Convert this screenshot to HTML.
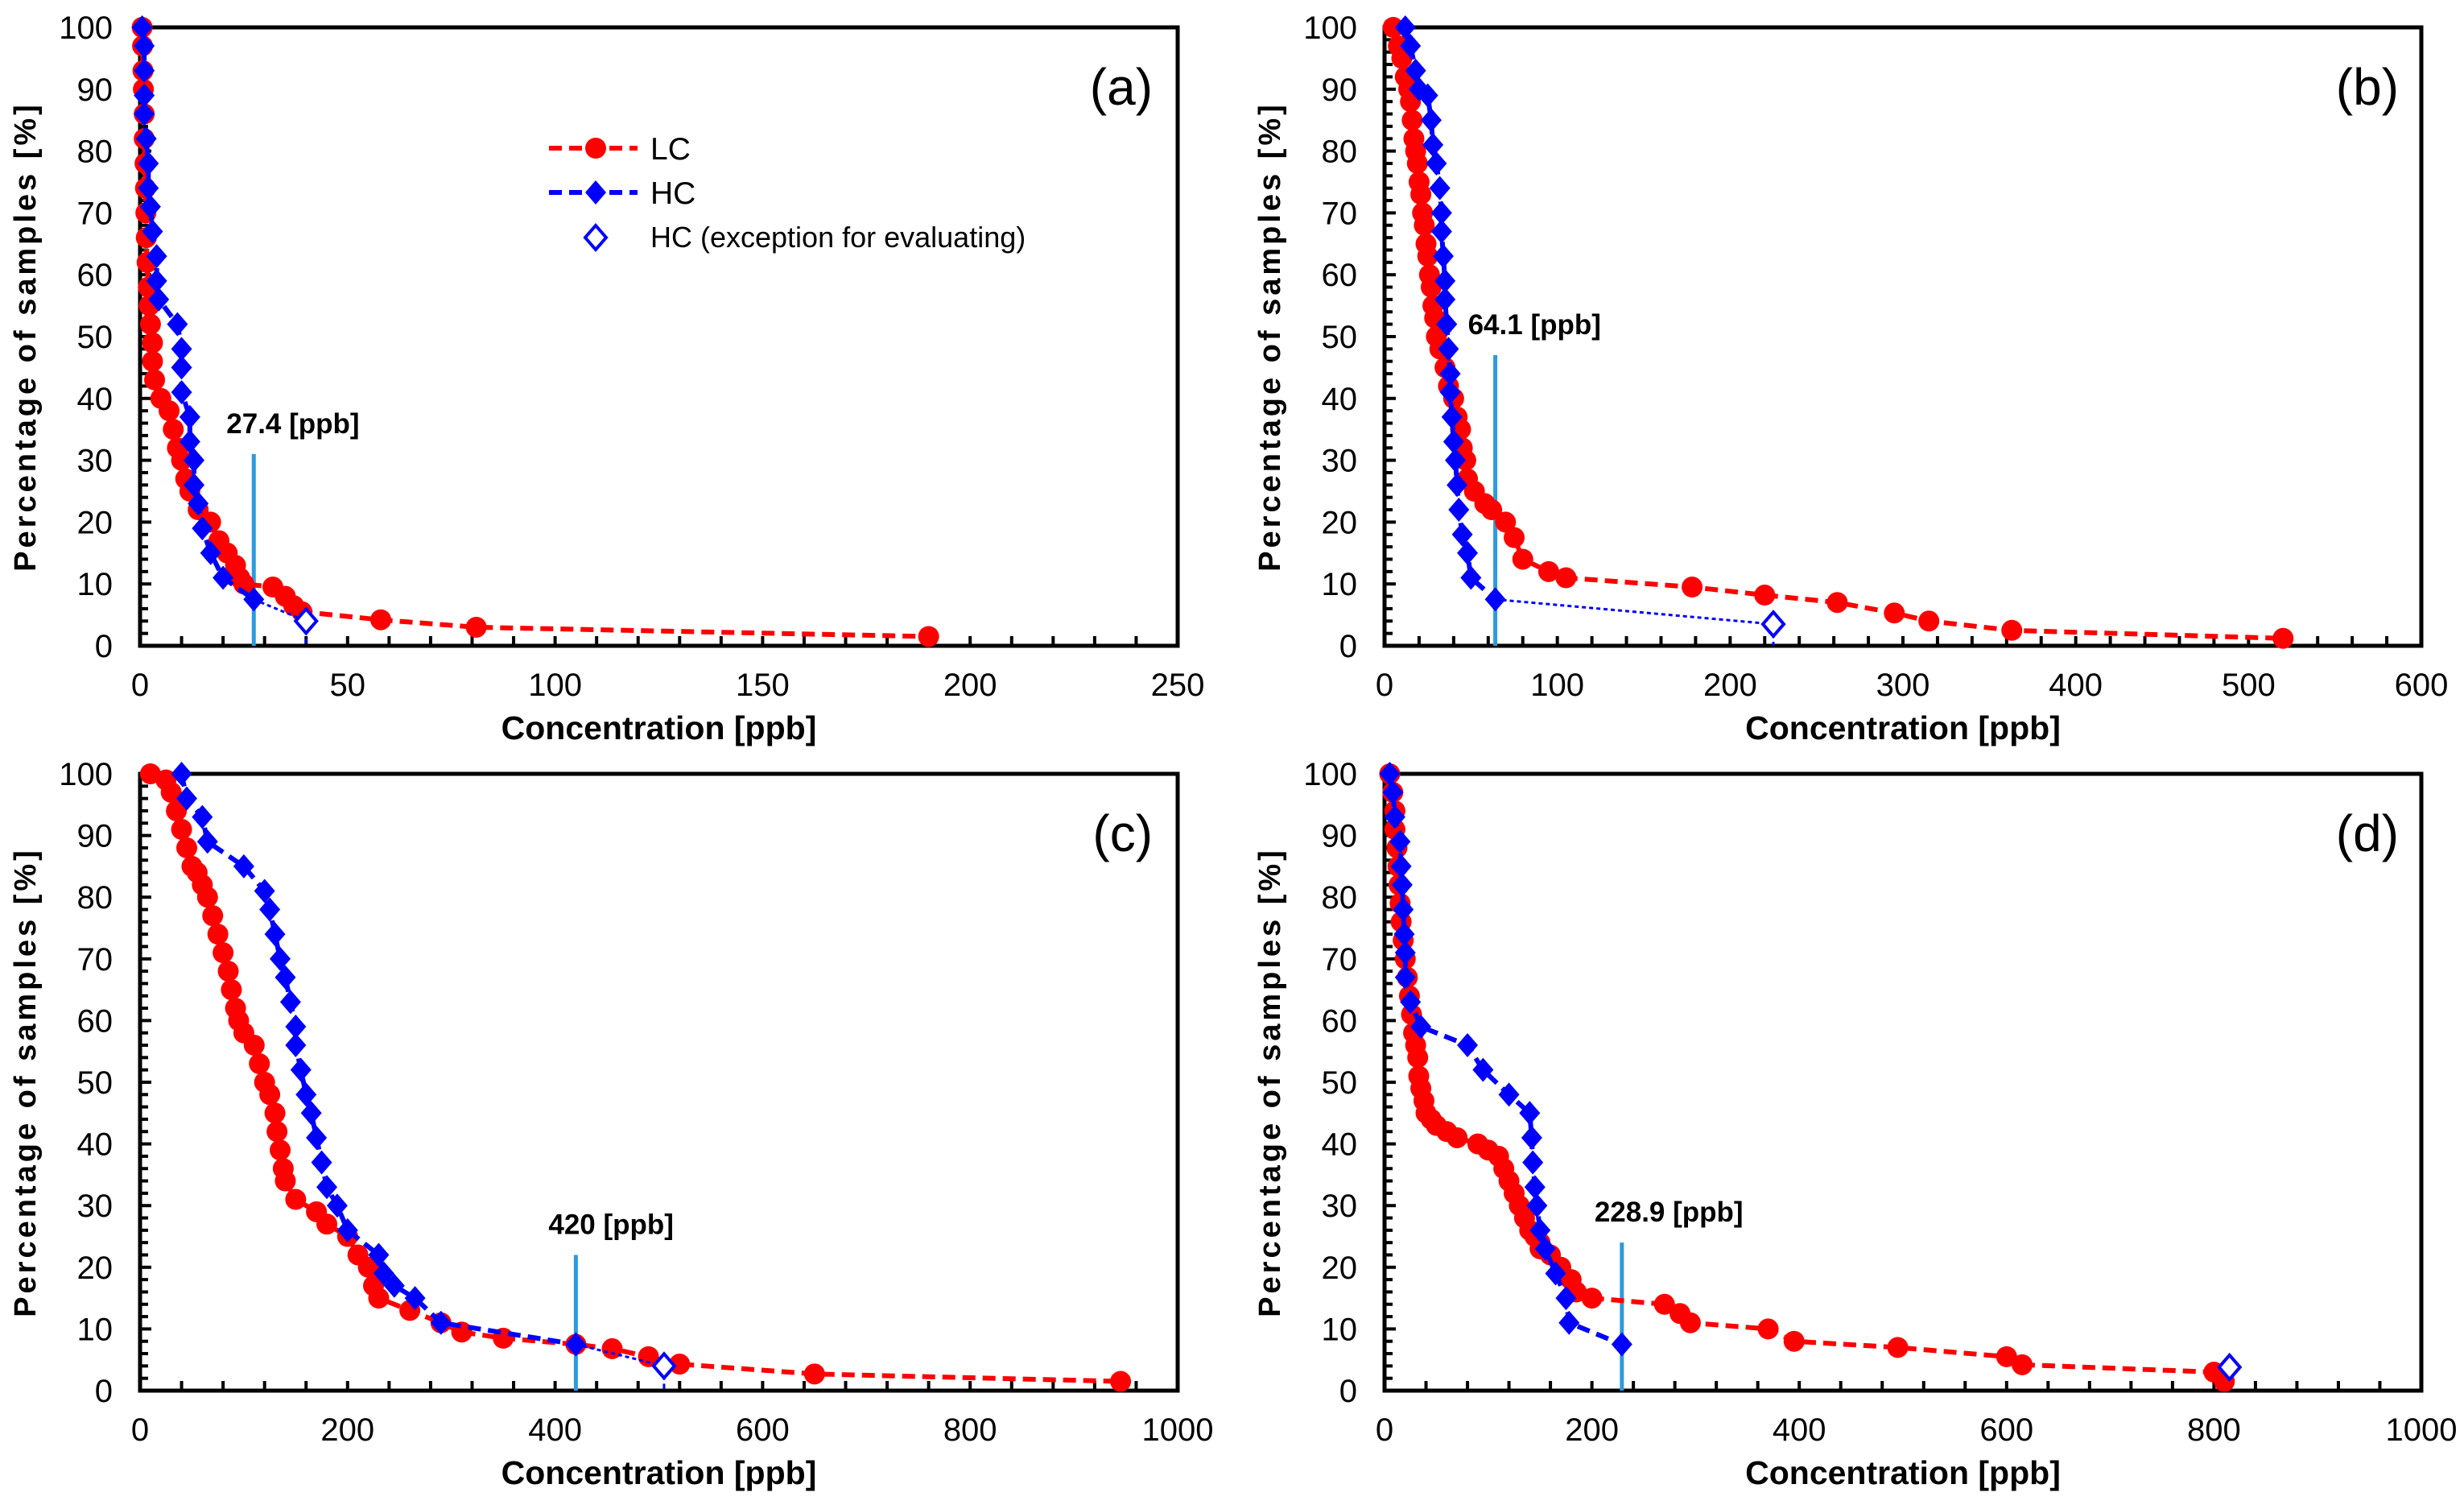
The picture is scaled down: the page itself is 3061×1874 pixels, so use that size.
<!DOCTYPE html>
<html><head><meta charset="utf-8">
<style>
html,body{margin:0;padding:0;background:#fff;}
svg{display:block;}
text{font-family:"Liberation Sans",sans-serif;}
</style></head>
<body>
<svg id="fig" width="3061" height="1874" viewBox="0 0 3061 1874" xmlns="http://www.w3.org/2000/svg"></svg>
<script>
// ---- Panel (a) data ----
const lcXa=[0.5,0.6,0.7,0.8,1,1,1.2,1.3,1.4,1.5,1.7,2,2.2,2.5,3,3,3.5,5,7,8,9,10,11,12,14,17,19,21,23,24,25,32,35,37,39,58,81,190];
const lcYa=[100,97,93,90,86,82,78,74,70,66,62,58,55,52,49,46,43,40,38,35,32,30,27,25,22,20,17,15,13,11,10,9.5,8,6.5,5.5,4.2,3,1.5];
const hcXa=[0.5,1,1,1,1,1.5,2,2,2.5,3,4,4,4.5,9,10,10,10,12,12,13,13,14,15,17,20,27.4];
const hcYa=[100,97,93,89,86,82,78,74,71,67,63,59,56,52,48,45,41,37,33,30,26,23,19,15,11,7.5];
const exXa=[40], exYa=[4];
const thrA=[27.4], thrTopA=[31], xTicksA=[0,50,100,150,200,250];
// ---- Panel (b) data ----
const lcXb=[5,8,10,12,14,15,16,17,18,19,20,21,22,23,24,25,26,27,28,29,30,32,35,37,40,42,44,45,47,48,52,58,62,70,75,80,95,105,178,220,262,295,315,363,520];
const lcYb=[100,97,95,92,90,88,85,82,80,78,75,73,70,68,65,63,60,58,55,53,50,48,45,42,40,37,35,32,30,27,25,23,22,20,17.5,14,12,11,9.5,8.2,7,5.3,4,2.5,1.2];
const hcXb=[12,15,18,20,25,27,28,30,32,33,33,34,35,35,36,37,38,38,39,40,41,42,43,45,48,50,64.1];
const hcYb=[100,97,93,90,89,85,81,78,74,70,67,63,59,56,52,48,44,41,37,33,30,26,22,18,15,11,7.5];
const exXb=[225], exYb=[3.5];
const thrB=[64.1], thrTopB=[47], xTicksB=[0,100,200,300,400,500,600];
// ---- Panel (c) data ----
const lcXc=[10,25,30,35,40,45,50,55,60,65,70,75,80,85,88,92,95,100,110,115,120,125,130,132,135,138,140,150,170,180,200,210,220,225,230,260,290,310,350,420,455,490,520,650,945];
const lcYc=[100,99,97,94,91,88,85,84,82,80,77,74,71,68,65,62,60,58,56,53,50,48,45,42,39,36,34,31,29,27,25,22,20,17,15,13,11,9.5,8.5,7.5,6.8,5.5,4.3,2.7,1.5];
const hcXc=[40,45,60,65,100,120,125,130,135,140,145,150,150,155,160,165,170,175,180,190,200,230,235,245,265,290,420];
const hcYc=[100,96,93,89,85,81,78,74,70,67,63,59,56,52,48,45,41,37,33,30,26,22,19,17,15,11,7.5];
const exXc=[505], exYc=[4];
const thrC=[420], thrTopC=[22], xTicksC=[0,200,400,600,800,1000];
// ---- Panel (d) data ----
const lcXd=[5,8,10,10,12,13,14,15,16,18,20,22,24,26,28,30,32,33,35,38,40,45,50,60,70,90,100,110,115,120,125,130,135,140,145,150,150,160,170,180,185,200,270,285,295,370,395,495,600,615,800,810];
const lcYd=[100,97,94,91,88,85,82,79,76,73,70,67,64,61,58,56,54,51,49,47,45,44,43,42,41,40,39,38,36,34,32,30,28,26,25,24,23,22,20,18,16,15,14,12.5,11,10,8,7,5.5,4.2,3,1.5];
const hcXd=[5,8,10,15,16,17,18,19,20,20,25,35,80,95,120,140,142,143,145,147,150,155,165,175,178,228.9];
const hcYd=[100,97,93,89,85,82,78,74,71,67,63,59,56,52,48,45,41,37,33,30,26,23,19,15,11,7.5];
const exXd=[815], exYd=[3.8];
const thrD=[228.9], thrTopD=[24], xTicksD=[0,200,400,600,800,1000];
const yTicks=[0,10,20,30,40,50,60,70,80,90,100];

const NS="http://www.w3.org/2000/svg";
const svg=document.getElementById('fig');
function mk(tag,attrs,parent){const e=document.createElementNS(NS,tag);for(const k in attrs)e.setAttribute(k,attrs[k]);(parent||svg).appendChild(e);return e;}

function panel(id,L,R,T,B,xmax,lcX,lcY,hcX,hcY,exX,exY,thr,thrTop,xTicks,label,labelPos,legend,link){
  const g=mk('g',{});
  
  
  const sx=v=>L+(v/xmax)*(R-L);
  const sy=v=>B-(v/100)*(B-T);
  for(let v=0;v<=100;v+=2){const y=sy(v);const t=mk('line',{x1:L,x2:L+(v%10==0?14:10),y1:y,y2:y,stroke:'#000','stroke-width':4},g);
    }
  const step=xTicks[1]-xTicks[0], minor=step/5;
  for(let v=0;v<=xmax+1e-9;v+=minor){const x=sx(v);const t=mk('line',{x1:x,x2:x,y1:B,y2:B-12,stroke:'#000','stroke-width':4},g);
    }
  const frame=mk('rect',{x:L,y:T,width:R-L,height:B-T,fill:'none',stroke:'#000','stroke-width':5},g);
  
  yTicks.forEach(v=>{const t=mk('text',{x:L-34,y:sy(v)+14,'text-anchor':'end','font-size':40},g);t.textContent=v;
    });
  xTicks.forEach(v=>{const t=mk('text',{x:sx(v),y:B+62,'text-anchor':'middle','font-size':40},g);t.textContent=v;
    });
  const xt=mk('text',{x:(L+R)/2,y:B+116,'text-anchor':'middle','font-size':41,'font-weight':'bold'},g);
  xt.textContent='Concentration [ppb]';
  const yc=(T+B)/2;
  const yt=mk('text',{x:0,y:0,'text-anchor':'middle','font-size':38,'font-weight':'bold','letter-spacing':4,transform:`translate(${L-130},${yc}) rotate(-90)`},g);
  yt.textContent='Percentage of samples [%]';
  const tl=mk('line',{x1:sx(thr[0]),x2:sx(thr[0]),y1:sy(thrTop[0]),y2:B,stroke:'#2a9be0','stroke-width':5},g);
  
  const tt=mk('text',{x:sx(thr[0])-34,y:sy(thrTop[0])-26,'text-anchor':'start','font-size':35,'font-weight':'bold'},g);
  tt.textContent=thr[0]+' [ppb]';
  const lp=lcX.map((x,i)=>sx(x)+','+sy(lcY[i])).join(' ');
  const ll=mk('polyline',{points:lp,fill:'none',stroke:'#ff0000','stroke-width':6,'stroke-dasharray':'16 9'},g);
  
  lcX.forEach((x,i)=>{const c=mk('circle',{cx:sx(x),cy:sy(lcY[i]),r:13,fill:'#ff0000'},g);
    });
  const hp=hcX.map((x,i)=>sx(x)+','+sy(hcY[i])).join(' ');
  const hl=mk('polyline',{points:hp,fill:'none',stroke:'#0000ff','stroke-width':6,'stroke-dasharray':'16 9'},g);
  
  const dia=(x,y)=>`M${x},${y-15} L${x+13},${y} L${x},${y+15} L${x-13},${y} Z`;
  hcX.forEach((x,i)=>{const d=mk('path',{d:dia(sx(x),sy(hcY[i])),fill:'#0000ff'},g);
    });
  const lx=hcX[hcX.length-1], ly=hcY[hcY.length-1];
  if(link){
    const el=mk('line',{x1:sx(lx),y1:sy(ly),x2:sx(exX[0]),y2:sy(exY[0]),stroke:'#0000ff','stroke-width':3,'stroke-dasharray':'5 4'},g);
    
    const ev=mk('line',{x1:sx(exX[0]),y1:sy(exY[0]),x2:sx(exX[0]),y2:B,stroke:'#0000ff','stroke-width':3,'stroke-dasharray':'6 5'},g);
    
  }
  const ep=mk('path',{d:dia(sx(exX[0]),sy(exY[0])),fill:'#fff',stroke:'#0000ff','stroke-width':4},g);
  
  const pl=mk('text',{x:labelPos[0],y:labelPos[1],'text-anchor':'end','font-size':64},g);
  pl.textContent=label;
  if(legend){
    const lg=mk('g',{},g);
    const e1=mk('g',{},lg);
    mk('line',{x1:682,x2:792,y1:184,y2:184,stroke:'#ff0000','stroke-width':6,'stroke-dasharray':'16 9'},e1);
    mk('circle',{cx:740,cy:184,r:13,fill:'#ff0000'},e1);
    const t1=mk('text',{x:808,y:198,'font-size':39},e1);t1.textContent='LC';
    const e2=mk('g',{},lg);
    mk('line',{x1:682,x2:792,y1:239,y2:239,stroke:'#0000ff','stroke-width':6,'stroke-dasharray':'16 9'},e2);
    mk('path',{d:dia(740,239),fill:'#0000ff'},e2);
    const t2=mk('text',{x:808,y:253,'font-size':39},e2);t2.textContent='HC';
    const e3=mk('g',{},lg);
    mk('path',{d:dia(740,295),fill:'#fff',stroke:'#0000ff','stroke-width':4},e3);
    const t3=mk('text',{x:808,y:307,'font-size':36},e3);t3.textContent='HC (exception for evaluating)';
  }
}
panel('a',174,1463,34,802,250,lcXa,lcYa,hcXa,hcYa,exXa,exYa,thrA,thrTopA,xTicksA,'(a)',[1432,130],true,true);
panel('b',1720,3008,34,802,600,lcXb,lcYb,hcXb,hcYb,exXb,exYb,thrB,thrTopB,xTicksB,'(b)',[2980,130],false,true);
panel('c',174,1463,961,1727,1000,lcXc,lcYc,hcXc,hcYc,exXc,exYc,thrC,thrTopC,xTicksC,'(c)',[1432,1057],false,true);
panel('d',1720,3008,961,1727,1000,lcXd,lcYd,hcXd,hcYd,exXd,exYd,thrD,thrTopD,xTicksD,'(d)',[2980,1057],false,false);
</script>
</body></html>
